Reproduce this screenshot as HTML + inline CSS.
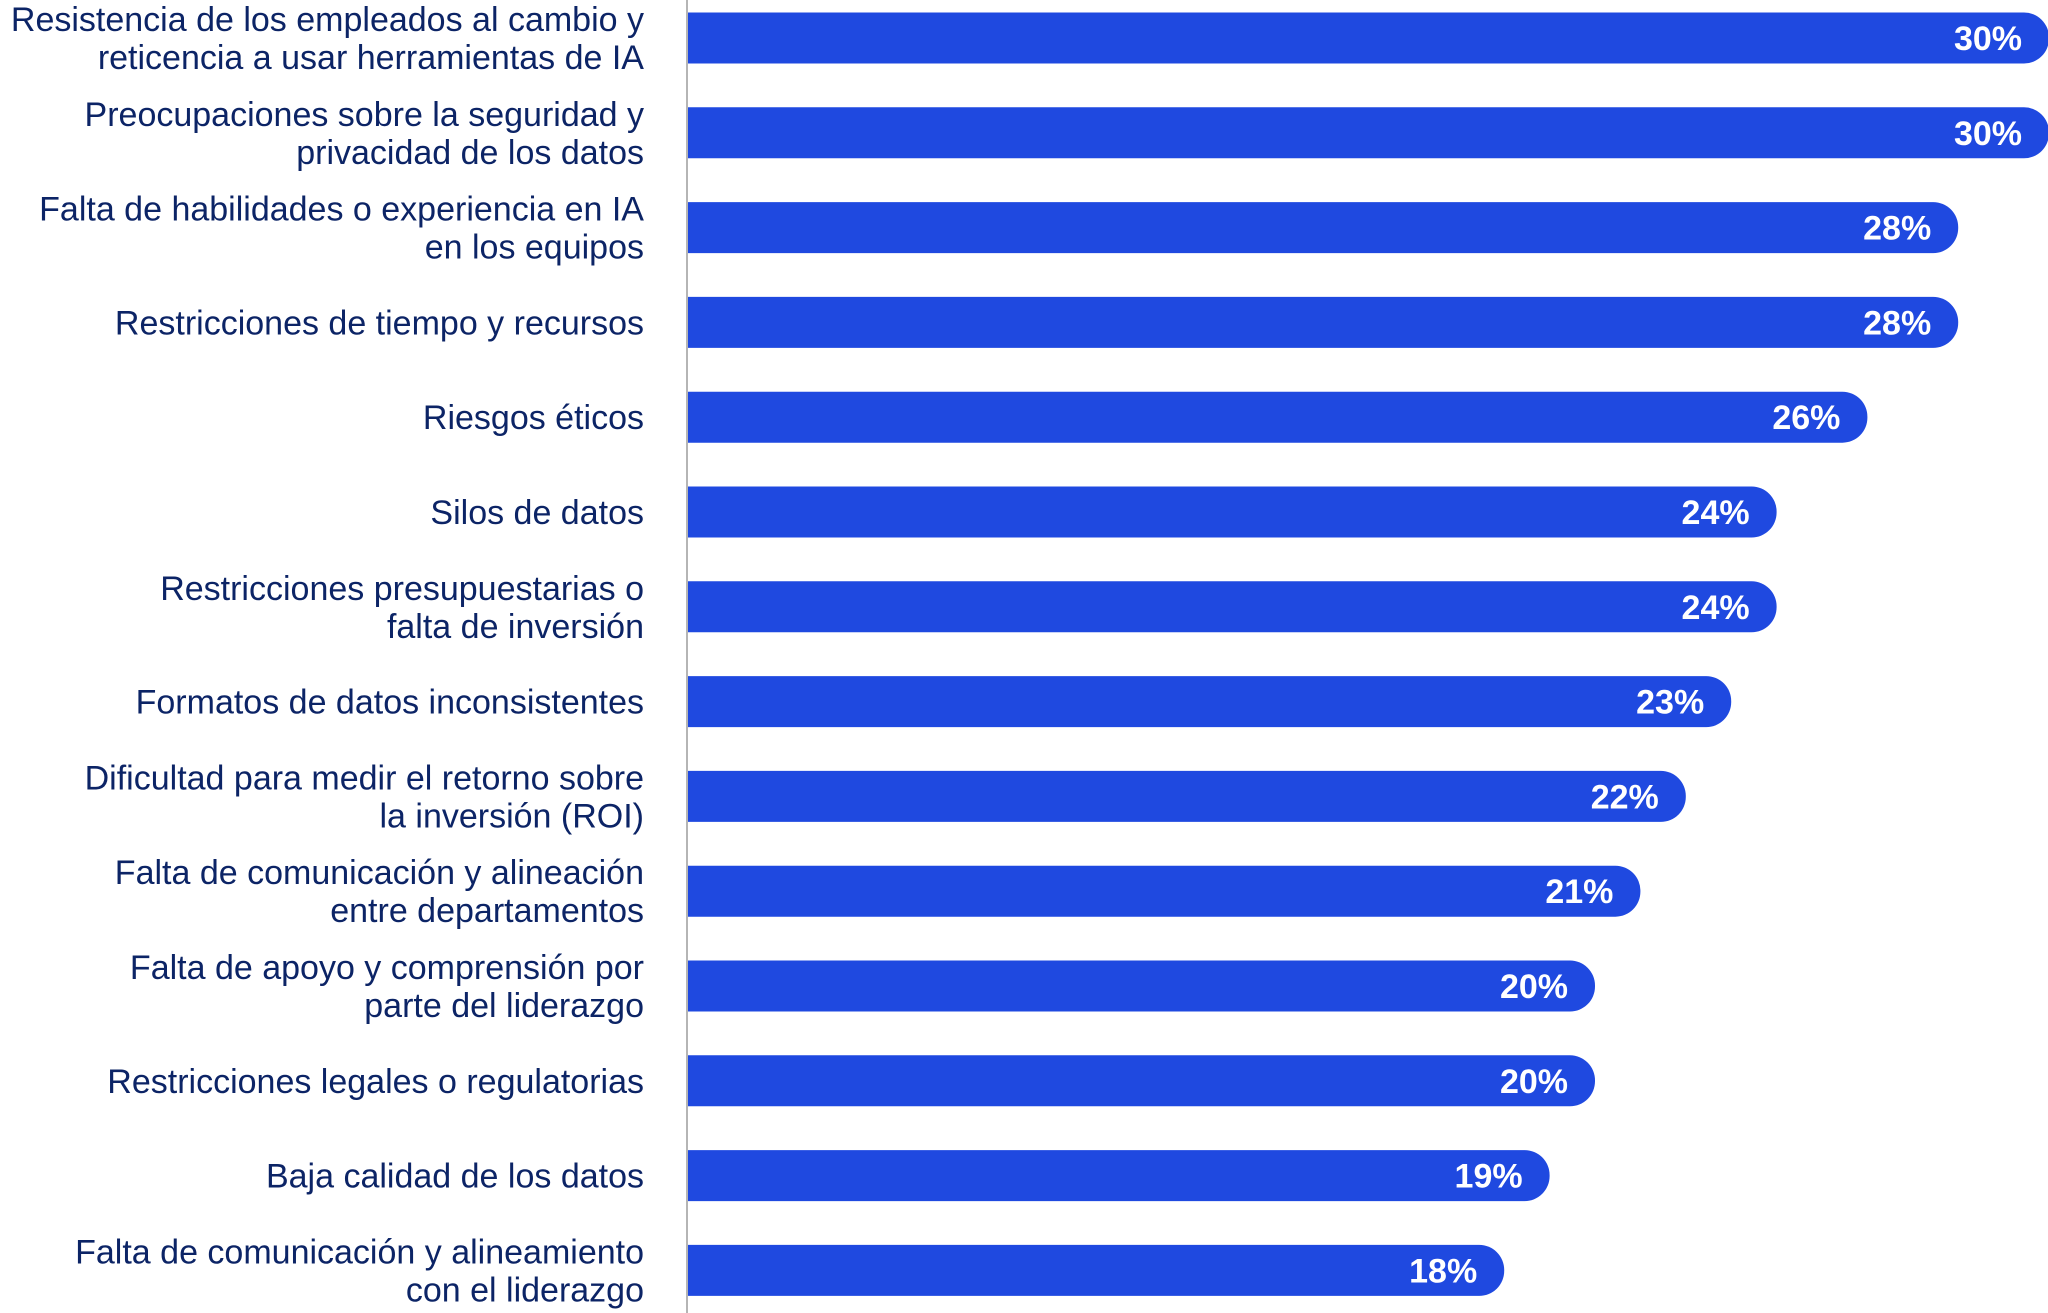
<!DOCTYPE html>
<html><head><meta charset="utf-8">
<style>
html,body{margin:0;padding:0;background:#fff;}
svg{display:block;}
</style></head>
<body>
<svg id="chart" width="2048" height="1313" viewBox="0 0 2048 1313" xmlns="http://www.w3.org/2000/svg"></svg>
<script>
const categories = [
  ["Resistencia de los empleados al cambio y","reticencia a usar herramientas de IA"],
  ["Preocupaciones sobre la seguridad y","privacidad de los datos"],
  ["Falta de habilidades o experiencia en IA","en los equipos"],
  ["Restricciones de tiempo y recursos"],
  ["Riesgos éticos"],
  ["Silos de datos"],
  ["Restricciones presupuestarias o","falta de inversión"],
  ["Formatos de datos inconsistentes"],
  ["Dificultad para medir el retorno sobre","la inversión (ROI)"],
  ["Falta de comunicación y alineación","entre departamentos"],
  ["Falta de apoyo y comprensión por","parte del liderazgo"],
  ["Restricciones legales o regulatorias"],
  ["Baja calidad de los datos"],
  ["Falta de comunicación y alineamiento","con el liderazgo"]
];
const values = [30,30,28,28,26,24,24,23,22,21,20,20,19,18];
const valueLabels = ["30%","30%","28%","28%","26%","24%","24%","23%","22%","21%","20%","20%","19%","18%"];

const svg = document.getElementById('chart');
const NS = 'http://www.w3.org/2000/svg';
const x0 = 687, perUnit = 45.4;
const xScale = v => x0 + v * perUnit;
const yCenter = i => 38 + i * 94.8;
const barH = 51, r = 25;

const axis = document.createElementNS(NS,'line');


axis.setAttribute('x1',x0); axis.setAttribute('x2',x0);
axis.setAttribute('y1',0); axis.setAttribute('y2',1313);
axis.setAttribute('stroke','#b5b5b5'); axis.setAttribute('stroke-width','2');
svg.appendChild(axis);

values.forEach((v,i)=>{
  const yc = yCenter(i), top = yc - barH/2, x1 = xScale(v);
  const p = document.createElementNS(NS,'path');
  
  
  p.setAttribute('d',`M${x0+1},${top} H${x1-r} A${r},${r} 0 0 1 ${x1},${top+r} V${top+barH-r} A${r},${r} 0 0 1 ${x1-r},${top+barH} H${x0+1} Z`);
  p.setAttribute('fill','#1f49e0');
  svg.appendChild(p);

  const t = document.createElementNS(NS,'text');
  
  
  t.setAttribute('x', x1 - 27);
  t.setAttribute('y', yc + 12);
  t.setAttribute('text-anchor','end');
  t.setAttribute('font-family','"Liberation Sans", sans-serif');
  t.setAttribute('font-weight','bold');
  t.setAttribute('font-size','34');
  t.setAttribute('fill','#ffffff');
  t.textContent = valueLabels[i];
  svg.appendChild(t);

  const lines = categories[i];
  const lh = 38;
  const startY = yc + 12 - (lines.length-1)*lh/2;
  const lab = document.createElementNS(NS,'text');
  
  
  lab.setAttribute('text-anchor','end');
  lab.setAttribute('font-family','"Liberation Sans", sans-serif');
  lab.setAttribute('font-size','34');
  lab.setAttribute('fill','#0c2466');
  lines.forEach((ln,k)=>{
    const ts = document.createElementNS(NS,'tspan');
    ts.setAttribute('x', 644);
    ts.setAttribute('y', startY + k*lh);
    ts.textContent = ln;
    lab.appendChild(ts);
  });
  svg.appendChild(lab);
});
</script>
</body></html>
